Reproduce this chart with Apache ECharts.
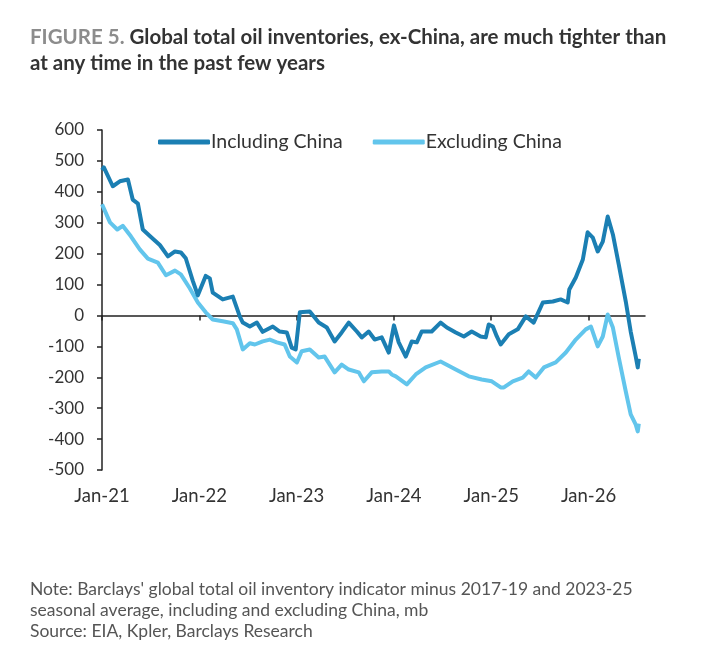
<!DOCTYPE html>
<html>
<head>
<meta charset="utf-8">
<script src="https://cdn.jsdelivr.net/npm/echarts@6/dist/echarts.min.js"></script>
<style>
	html, body { margin: 0; padding: 0; background: #fff; }
	#chart { width: 708px; height: 671px; }
</style>
</head>
<body>
<div id="chart"></div>
<script>
var inclDates = ['2021-01-01', '2021-01-08', '2021-02-11', '2021-03-07', '2021-04-07', '2021-04-25', '2021-05-14', '2021-06-02',
	'2021-07-02', '2021-08-05', '2021-09-05', '2021-10-01', '2021-10-23', '2021-11-11', '2021-12-07', '2021-12-26',
	'2022-01-25', '2022-02-10', '2022-02-21', '2022-03-28', '2022-05-05', '2022-06-01', '2022-06-12', '2022-07-08',
	'2022-08-04', '2022-08-26', '2022-10-03', '2022-10-29', '2022-11-25', '2022-12-13', '2022-12-28', '2023-01-13',
	'2023-02-20', '2023-03-23', '2023-04-23', '2023-05-22', '2023-06-18', '2023-07-14', '2023-08-14', '2023-09-02',
	'2023-09-28', '2023-10-20', '2023-11-16', '2023-12-12', '2024-01-01', '2024-01-19', '2024-02-15', '2024-03-07',
	'2024-03-26', '2024-04-14', '2024-05-21', '2024-06-24', '2024-07-17', '2024-08-20', '2024-09-20', '2024-10-19',
	'2024-11-22', '2024-12-11', '2024-12-22', '2025-01-07', '2025-01-22', '2025-02-06', '2025-03-06', '2025-04-09',
	'2025-05-09', '2025-06-08', '2025-07-12', '2025-08-19', '2025-09-18', '2025-10-14', '2025-10-20', '2025-11-14',
	'2025-12-10', '2025-12-28', '2026-01-17', '2026-02-05', '2026-02-24', '2026-03-12', '2026-04-01', '2026-04-23',
	'2026-05-19', '2026-06-07', '2026-06-26', '2026-07-03', '2026-07-07'];
var inclValues = [470, 479, 418, 434, 440, 375, 362, 278,
	254, 228, 191, 207, 204, 185, 112, 65,
	128, 120, 74, 52, 61, -4, -23, -36,
	-23, -53, -36, -52, -55, -104, -110, 10,
	13, -23, -39, -84, -55, -23, -52, -71,
	-52, -78, -71, -120, -32, -87, -133, -84,
	-87, -52, -52, -23, -39, -55, -68, -52,
	-68, -71, -29, -36, -68, -94, -61, -45,
	-3, -23, 42, 45, 52, 42, 84, 123,
	181, 269, 252, 207, 239, 320, 262, 165,
	45, -52, -133, -168, -140];

var exclDates = ['2021-01-01', '2021-01-08', '2021-01-31', '2021-02-28', '2021-03-18', '2021-04-18', '2021-05-21', '2021-06-21',
	'2021-07-28', '2021-08-28', '2021-10-01', '2021-10-23', '2021-11-26', '2021-12-26', '2022-01-25', '2022-02-21',
	'2022-03-28', '2022-05-05', '2022-05-20', '2022-06-12', '2022-07-08', '2022-07-27', '2022-08-26', '2022-09-22',
	'2022-10-18', '2022-11-17', '2022-12-06', '2023-01-02', '2023-01-20', '2023-02-20', '2023-03-23', '2023-04-15',
	'2023-05-22', '2023-06-18', '2023-07-14', '2023-08-21', '2023-09-10', '2023-10-09', '2023-11-16', '2023-12-12',
	'2023-12-23', '2024-01-08', '2024-02-19', '2024-03-22', '2024-04-29', '2024-06-24', '2024-08-20', '2024-10-08',
	'2024-11-26', '2025-01-03', '2025-02-06', '2025-02-18', '2025-03-21', '2025-04-28', '2025-05-20', '2025-06-16',
	'2025-07-16', '2025-08-30', '2025-10-07', '2025-11-14', '2025-12-21', '2026-01-10', '2026-02-05', '2026-02-24',
	'2026-03-12', '2026-04-01', '2026-04-23', '2026-05-19', '2026-06-07', '2026-06-26', '2026-07-03', '2026-07-07'];
var exclValues = [360, 366, 301, 278, 290, 256, 214, 184,
	171, 130, 145, 133, 88, 42, 10, -13,
	-19, -25, -45, -110, -90, -94, -84, -78,
	-87, -94, -133, -152, -116, -110, -136, -133,
	-184, -159, -175, -184, -213, -184, -181, -181,
	-191, -197, -223, -191, -168, -149, -175, -197,
	-207, -213, -233, -233, -213, -201, -181, -201,
	-168, -152, -120, -78, -45, -36, -100, -68,
	3, -39, -136, -246, -320, -353, -375, -350];

var yearTicks = [2021, 2022, 2023, 2024, 2025, 2026];

var titleGrey = 'FIGURE 5. ';
var titleLine1 = 'Global total oil inventories, ex-China, are much tighter than';
var titleLine2 = 'at any time in the past few years';
var noteLines = [
	"Note: Barclays' global total oil inventory indicator minus 2017-19 and 2023-25",
	'seasonal average, including and excluding China, mb',
	'Source: EIA, Kpler, Barclays Research'
];

var FONT = 'Lato';

// date string -> decimal year, so the x axis can tick on Jan of each year
function toYear(s) {
	var p = s.split('-');
	var y = +p[0], m = +p[1] - 1, d = +p[2] - 1;
	return y + (m + d / 30.5) / 12;
}

function pairs(dates, values) {
	var out = [];
	for (var i = 0; i < dates.length; i++) {
		out.push([toYear(dates[i]), values[i]]);
	}
	return out;
}

var myChart = echarts.init(document.getElementById('chart'));
var xMin = 2021, xMax = 2026.58;

var option = {
	backgroundColor: '#fff',
	animation: false,
	title: {
		left: 30,
		top: 24,
		padding: 0,
		text: '{g|' + titleGrey + '}{b|' + titleLine1 + '}\n{b|' + titleLine2 + '}',
		textStyle: {
			rich: {
				g: { fontFamily: FONT, fontSize: 20.5, fontWeight: 'bold', color: '#8c8c8c', lineHeight: 26 },
				b: { fontFamily: FONT, fontSize: 20.5, fontWeight: 'bold', color: '#333', lineHeight: 26 }
			}
		}
	},
	legend: {
		top: 132,
		left: 158,
		padding: 0,
		itemGap: 30,
		itemWidth: 52,
		itemHeight: 5,
		icon: 'roundRect',
		textStyle: { fontFamily: FONT, fontSize: 19.5, color: '#333', padding: [0, 0, 0, -4] },
		data: ['Including China', 'Excluding China']
	},
	grid: {
		left: 102,
		right: 63,
		top: 130,
		bottom: 201
	},
	xAxis: [{
		type: 'value',
		min: xMin,
		max: xMax,
		interval: 1,
		splitLine: { show: false },
		axisLine: { show: false, onZero: false },
		axisTick: { show: false },
		axisLabel: {
			margin: 17,
			fontFamily: FONT,
			fontSize: 18.5,
			color: '#333',
			customValues: yearTicks,
			formatter: function(v) {
				return 'Jan-' + String(Math.round(v) - 2000);
			}
		}
	}, {
		type: 'value',
		position: 'bottom',
		min: xMin,
		max: xMax,
		interval: 1,
		splitLine: { show: false },
		axisLine: { show: true, onZero: true, lineStyle: { color: '#222', width: 1.5 } },
		axisTick: { show: true, length: 5, customValues: yearTicks, lineStyle: { color: '#222', width: 1.5 } },
		axisLabel: { show: false }
	}],
	yAxis: {
		type: 'value',
		min: -500,
		max: 600,
		interval: 100,
		splitLine: { show: false },
		axisLine: { show: true, onZero: false, lineStyle: { color: '#222', width: 1.5 } },
		axisTick: { show: true, length: 5, lineStyle: { color: '#222', width: 1.5 } },
		axisLabel: { margin: 18, fontFamily: FONT, fontSize: 17, color: '#333' }
	},
	series: [{
		name: 'Including China',
		type: 'line',
		xAxisIndex: 0,
		symbol: 'none',
		color: '#1b7fb3',
		lineStyle: { width: 4, color: '#1b7fb3', join: 'round' },
		z: 3,
		data: pairs(inclDates, inclValues)
	}, {
		name: 'Excluding China',
		type: 'line',
		xAxisIndex: 0,
		symbol: 'none',
		color: '#62c5ec',
		lineStyle: { width: 4, color: '#62c5ec', join: 'round' },
		z: 2,
		data: pairs(exclDates, exclValues)
	}],
	graphic: noteLines.map(function(t, i) {
		return {
			type: 'text',
			left: 30,
			top: 580 + i * 21,
			style: { text: t, fontFamily: FONT, fontSize: 17.5, fill: '#555' }
		};
	})
};
myChart.setOption(option);
</script>
</body>
</html>
